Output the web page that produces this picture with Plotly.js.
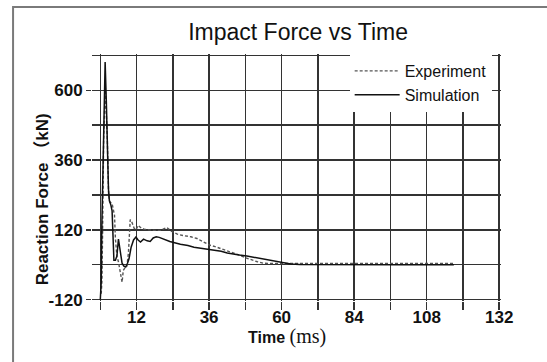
<!DOCTYPE html>
<html>
<head>
<meta charset="utf-8">
<script src="https://cdn.plot.ly/plotly-3.0.1.min.js"></script>
<style>html,body{margin:0;padding:0;background:#fff;}#chart{width:547px;height:362px;}</style>
</head>
<body>
<div id="chart"></div>
<script>
// Simulation (solid) — time in ms, reaction force in kN
var simTime = [0, 0.3, 0.5, 1.0, 1.6, 2.0, 2.3, 2.7, 3.0, 3.5, 3.9, 4.2, 4.5, 5.0, 5.5, 6.0, 6.4, 6.8, 7.2, 7.8, 8.4, 9.0, 9.5, 10.2, 11.0, 11.8, 12.5, 13.3, 14.3, 15.5, 16.5, 17.5, 18.5, 19.5, 21, 23, 26.5, 29, 31, 33, 35, 37.5, 40, 42, 44, 46, 48.5, 51, 53, 55, 57.5, 59.5, 61, 63, 66, 80, 100, 117];
var simForce = [-120, -60, 130, 450, 697, 560, 400, 260, 220, 205, 185, 80, 15, 15, 30, 88, 60, 20, 5, -5, -8, 5, 20, 60, 85, 95, 85, 78, 88, 82, 80, 92, 96, 94, 88, 80, 70, 66, 60, 57, 52, 50, 46, 40, 36, 33, 30, 25, 22, 18, 14, 9, 5, 2, 1, 0, 0, 0];

// Experiment (dotted)
var expTime = [0.3, 0.55, 0.8, 1.1, 1.65, 2.0, 2.3, 2.75, 3.2, 3.9, 4.4, 4.7, 5.0, 5.5, 6.0, 6.6, 7.0, 7.2, 7.6, 8.2, 8.8, 9.3, 9.9, 10.5, 11.2, 11.8, 12.5, 13.3, 14.5, 16, 18, 20, 22, 23.5, 25.5, 27.5, 30, 32, 34, 36, 38, 40, 42, 44, 46, 48, 50, 52, 54, 58, 70, 90, 117];
var expForce = [-100, -54, 150, 428, 610, 520, 440, 240, 215, 210, 190, 170, 90, 28, 10, -20, -40, -60, -20, -10, -5, 40, 155, 145, 125, 120, 135, 128, 122, 120, 118, 118, 128, 115, 105, 100, 96, 90, 80, 68, 62, 55, 48, 42, 33, 24, 16, 10, 5, 4, 4, 5, 4];

var xTickVals = [0, 12, 24, 36, 48, 60, 72, 84, 96, 108, 120, 132];
var xTickText = ['', '12', '', '36', '', '60', '', '84', '', '108', '', '132'];
var yTickVals = [-120, 120, 360, 600];
var yTickText = ['-120', '120', '360', '600'];

var FONT = 'Arial, "Liberation Sans", sans-serif';
var GRID = '#333333';

var traces = [
  {x: expTime, y: expForce, name: 'Experiment', mode: 'lines', type: 'scatter',
   line: {color: '#555555', width: 1.4, dash: '3px,2px'}},
  {x: simTime, y: simForce, name: 'Simulation', mode: 'lines', type: 'scatter',
   line: {color: '#111111', width: 1.5}}
];

var layout = {
  width: 547, height: 362,
  margin: {l: 91.7, r: 46.2, t: 53.5, b: 61.3, pad: 0},
  paper_bgcolor: '#ffffff', plot_bgcolor: '#ffffff',
  font: {family: FONT, color: '#111111'},
  title: {text: 'Impact Force vs Time', font: {family: FONT, size: 23, color: '#111111'},
          xref: 'container', x: 0.545, xanchor: 'center', yref: 'container', y: 0.912, yanchor: 'middle'},
  showlegend: true,
  legend: {x: 0.63, xanchor: 'left', y: 1.0, yanchor: 'top', bgcolor: '#ffffff', borderwidth: 0,
           itemwidth: 45,
           font: {family: FONT, size: 16, color: '#111111'}},
  xaxis: {range: [-2.75, 132.6], tickmode: 'array', tickvals: xTickVals, ticktext: xTickText,
          showgrid: true, gridcolor: GRID, gridwidth: 1.6, zeroline: false, showline: false,
          ticks: 'outside', ticklen: 8, tickwidth: 1.5, tickcolor: GRID,
          ticklabelstandoff: -7, ticklabelshift: 2.5,
          tickfont: {family: FONT, size: 17, color: '#111111', weight: 'bold'}},
  yaxis: {range: [-125, 725], tickmode: 'array', tickvals: yTickVals, ticktext: yTickText,
          showgrid: true, gridcolor: GRID, gridwidth: 1.6, zeroline: false, showline: false,
          ticks: 'outside', ticklen: 5, tickwidth: 1.5, tickcolor: GRID,
          tickfont: {family: FONT, size: 17, color: '#111111', weight: 'bold'},
          minor: {tick0: 0, dtick: 120, showgrid: true, gridcolor: GRID, gridwidth: 1.6, ticks: ''}},
  annotations: [
    {text: '<b>Time</b> <span style="font-family:\'Times New Roman\', \'Liberation Serif\', serif;font-size:20px">(ms)</span>',
     xref: 'paper', yref: 'paper', x: 0.477, y: -0.143, xanchor: 'center', yanchor: 'middle',
     showarrow: false, font: {family: FONT, size: 16, color: '#111111'}},
    {text: '<b>Reaction Force （kN)</b>', textangle: -90,
     xref: 'paper', yref: 'paper', x: -0.122, y: 0.412, xanchor: 'center', yanchor: 'middle',
     showarrow: false, font: {family: FONT + ', "Noto Sans CJK SC"', size: 17, color: '#111111'}}
  ],
  shapes: [
    {type: 'rect', xref: 'paper', yref: 'paper', x0: -0.193, x1: 1.2, y0: -0.4, y1: 1.19,
     line: {color: '#7a7a7a', width: 2}, fillcolor: 'rgba(0,0,0,0)', layer: 'below'}
  ]
};

Plotly.newPlot('chart', traces, layout, {staticPlot: true, displayModeBar: false});
</script>
</body>
</html>
